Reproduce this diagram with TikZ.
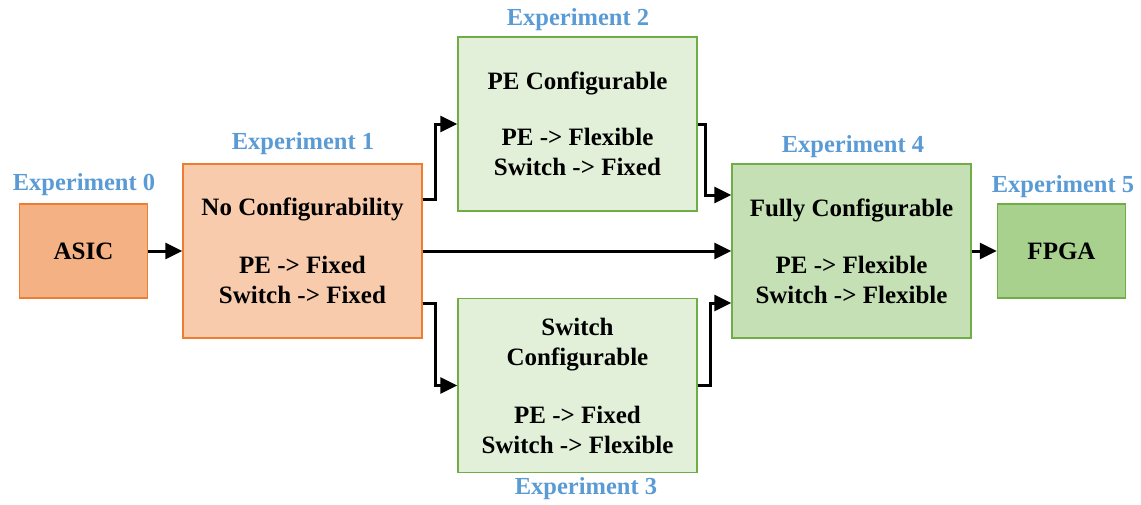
\documentclass[tikz,border=0pt]{standalone}
\usepackage{fontspec}
\setmainfont{Liberation Serif}
\usetikzlibrary{arrows.meta,calc}
\definecolor{orangeline}{HTML}{ED7D31}
\definecolor{asicfill}{HTML}{F4B183}
\definecolor{fixfill}{HTML}{F8CBAD}
\definecolor{greenline}{HTML}{70AD47}
\definecolor{halffill}{HTML}{E2F0D9}
\definecolor{fullfill}{HTML}{C5E0B4}
\definecolor{fpgafill}{HTML}{A9D18E}
\definecolor{explabel}{HTML}{5B9BD5}
\tikzset{
  box/.style={draw, line width=1.4pt, inner sep=0pt, align=center,
    font=\fontsize{25}{30}\selectfont\bfseries},
  orangebox/.style={box, draw=orangeline},
  greenbox/.style={box, draw=greenline},
  bigbox/.style={minimum width=239pt, minimum height=174pt},
  smallbox/.style={minimum width=128pt, minimum height=94pt},
  explbl/.style={text=explabel, font=\fontsize{24.5}{28}\selectfont\bfseries},
  flow/.style={line width=3pt, -{Triangle[length=17pt,width=16pt]}}
}
\begin{document}
\begin{tikzpicture}[x=1pt,y=-1pt]
\useasboundingbox (0,0) rectangle (1141,504);

% stages
\node[orangebox, smallbox, fill=asicfill] (asic) at (83.5,251) {ASIC};
\node[orangebox, bigbox, fill=fixfill] (e1) at (302.5,251)
  {No Configurability\\[28pt]PE -> Fixed\\Switch -> Fixed};
\node[greenbox, bigbox, fill=halffill] (e2) at (577.5,124)
  {PE Configurable\\[26pt]PE -> Flexible\\Switch -> Fixed};
\node[greenbox, bigbox, fill=halffill] (e3) at (577.5,385.5)
  {Switch\\Configurable\\[28pt]PE -> Fixed\\Switch -> Flexible};
\node[greenbox, bigbox, fill=fullfill] (e4) at (851.5,251)
  {Fully Configurable\\[27pt]PE -> Flexible\\Switch -> Flexible};
\node[greenbox, smallbox, fill=fpgafill] (fpga) at (1061.5,251) {FPGA};

% experiment labels
\node[explbl] (l0) at (84,185) {Experiment 0};
\node[explbl] (l1) at (303,144) {Experiment 1};
\node[explbl] (l2) at (578,20) {Experiment 2};
\node[explbl] (l3) at (586,489) {Experiment 3};
\node[explbl] (l4) at (853,147) {Experiment 4};
\node[explbl] (l5) at (1063,187) {Experiment 5};

% connectors
\draw[flow] (asic.east) -- (e1.west);
\draw[flow] ([yshift=52pt]e1.east) -- ++(13,0) |- (e2.west);
\draw[flow] ([yshift=-52pt]e1.east) -- ++(13,0) |- (e3.west);
\draw[flow] (e1.east) -- (e4.west);
\draw[flow] (e2.east) -- ++(8,0) |- ([yshift=56pt]e4.west);
\draw[flow] (e3.east) -- ++(13,0) |- ([yshift=-52pt]e4.west);
\draw[flow] (e4.east) -- (fpga.west);
\end{tikzpicture}
\end{document}
